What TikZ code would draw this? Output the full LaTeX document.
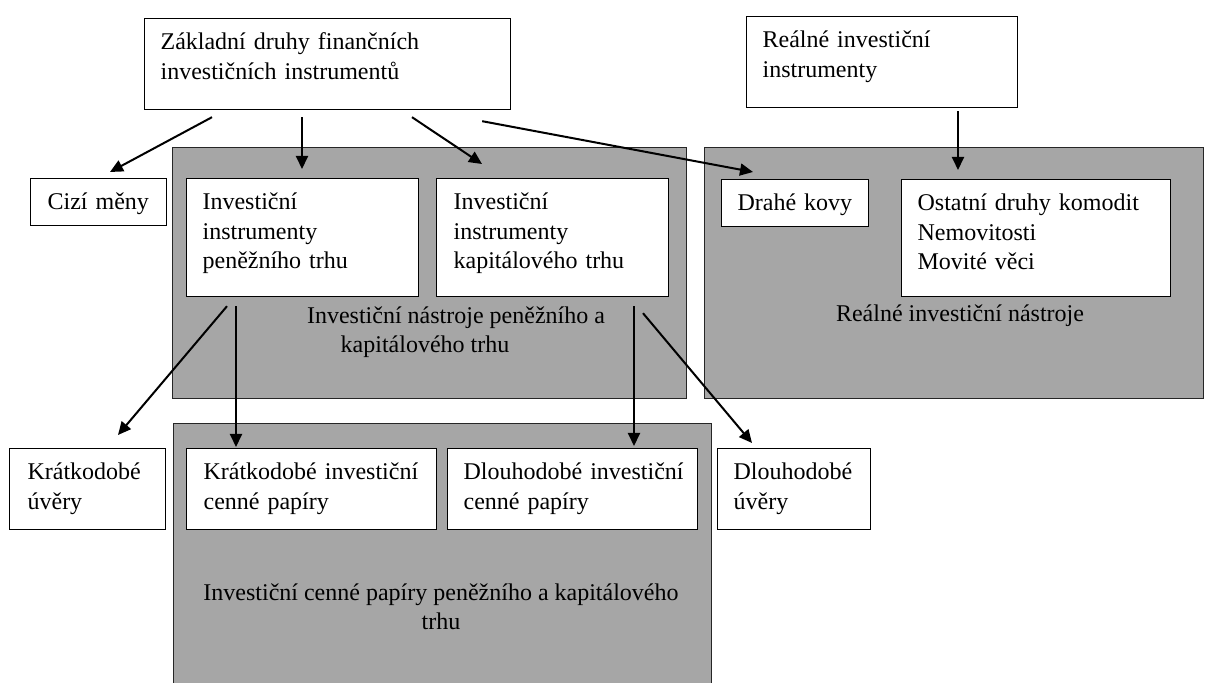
\documentclass[tikz,border=0pt]{standalone}
\usepackage{fontspec}
\setmainfont{Liberation Serif}
\usetikzlibrary{arrows.meta}
\definecolor{Seda}{RGB}{166, 166, 166}
\newcommand{\radky}[1]{\begin{tabular}[t]{@{}l@{}}#1\end{tabular}}

\begin{document}
\begin{tikzpicture}[x=0.5pt, y=-0.5pt,
        panel/.style={rectangle, draw=black!85, fill=Seda, line width=0.6pt, anchor=north west, inner sep=0pt},
        box/.style n args={3}{rectangle, draw=black, fill=white, line width=0.6pt, anchor=north west, align=left, text width=#1, text height=10.36pt, text depth=#2, inner xsep=#3, inner ysep=5.1pt, font=\fontsize{12}{14.8}\selectfont},
        popis/.style={font=\fontsize{12}{14.8}\selectfont, align=center, inner sep=0pt},
        arr/.style={line width=1pt, -{Triangle[length=6.5pt, width=6pt]}}
    ]%
        \useasboundingbox (0,0) rectangle (1206,683);
        % ================= SEDÉ PANELY (POZADÍ) =================
        \node[panel, minimum width=257pt, minimum height=125.5pt] (trhy) at (172,147) {};
        \node[panel, minimum width=249.5pt, minimum height=125.5pt] (realne) at (704,147) {};
        \node[panel, minimum width=269pt, minimum height=140pt] (papiry) at (173,423) {};
        % popisky panelů
        \node[popis, anchor=north] (trhy_txt) at (425,306) {\hspace*{31pt}Investiční nástroje peněžního a\\kapitálového trhu};
        \node[popis, anchor=base] (realne_txt) at (960,322) {Reálné investiční nástroje};
        \node[popis, anchor=north] (papiry_txt) at (441,583) {Investiční cenné papíry peněžního a kapitálového\\trhu};
        % ================= HORNÍ ÚROVEŇ =================
        \node[box={167pt}{24.94pt}{8pt}] (zakladni) at (144,18) {\radky{Základní druhy finančních\\investičních instrumentů}};
        \node[box={119.5pt}{24.94pt}{8pt}] (realni) at (746,16) {\radky{Reálné investiční\\instrumenty}};
        % ================= STŘEDNÍ ÚROVEŇ =================
        \node[box={51pt}{2.94pt}{8.5pt}] (cizi) at (30,178) {\radky{Cizí měny}};
        \node[box={100pt}{38.44pt}{8pt}] (invpen) at (186,178) {\radky{Investiční\\instrumenty\\peněžního trhu}};
        \node[box={99pt}{38.44pt}{8.5pt}] (invkap) at (436,178) {\radky{Investiční\\instrumenty\\kapitálového trhu}};
        \node[box={57.5pt}{2.94pt}{8pt}] (drahe) at (721,179) {\radky{Drahé kovy}};
        \node[box={118.5pt}{37.94pt}{8pt}] (ostatni) at (901,179) {\radky{Ostatní druhy komodit\\Nemovitosti\\Movité věci}};
        % ================= DOLNÍ ÚROVEŇ =================
        \node[box={60pt}{19.94pt}{9pt}] (kratuv) at (9,448) {\radky{Krátkodobé\\úvěry}};
        \node[box={108pt}{19.94pt}{8.5pt}] (kratcp) at (186,448) {\radky{Krátkodobé investiční\\cenné papíry}};
        \node[box={109pt}{19.94pt}{8pt}] (dlouhcp) at (447,448) {\radky{Dlouhodobé investiční\\cenné papíry}};
        \node[box={60.5pt}{19.94pt}{8pt}] (dlouhuv) at (717,448) {\radky{Dlouhodobé\\úvěry}};
        % ================= ŠIPKY Z HORNÍCH BOXŮ =================
        \draw[arr] ([shift={(68,7)}]zakladni.south west) -- ([shift={(80,-6)}]cizi.north west);
        \draw[arr] ([shift={(158,7)}]zakladni.south west) -- ([shift={(116,-9)}]invpen.north west);
        \draw[arr] ([shift={(268,7)}]zakladni.south west) -- ([shift={(46,-14)}]invkap.north west);
        \draw[arr] ([shift={(-29,11)}]zakladni.south east) -- ([shift={(32,-7)}]drahe.north west);
        \draw[arr] ([shift={(212,3)}]realni.south west) -- ([shift={(57,-9)}]ostatni.north west);
        % ================= ŠIPKY DO DOLNÍ ÚROVNĚ =================
        \draw[arr] ([shift={(41,9)}]invpen.south west) -- ([shift={(109,-13)}]kratuv.north west);
        \draw[arr] ([shift={(50,9)}]invpen.south west) -- ([shift={(50,-1)}]kratcp.north west);
        \draw[arr] ([shift={(198,9)}]invkap.south west) -- ([shift={(187,-2)}]dlouhcp.north west);
        \draw[arr] ([shift={(207,16)}]invkap.south west) -- ([shift={(35,-5)}]dlouhuv.north west);
    \end{tikzpicture}
\end{document}
